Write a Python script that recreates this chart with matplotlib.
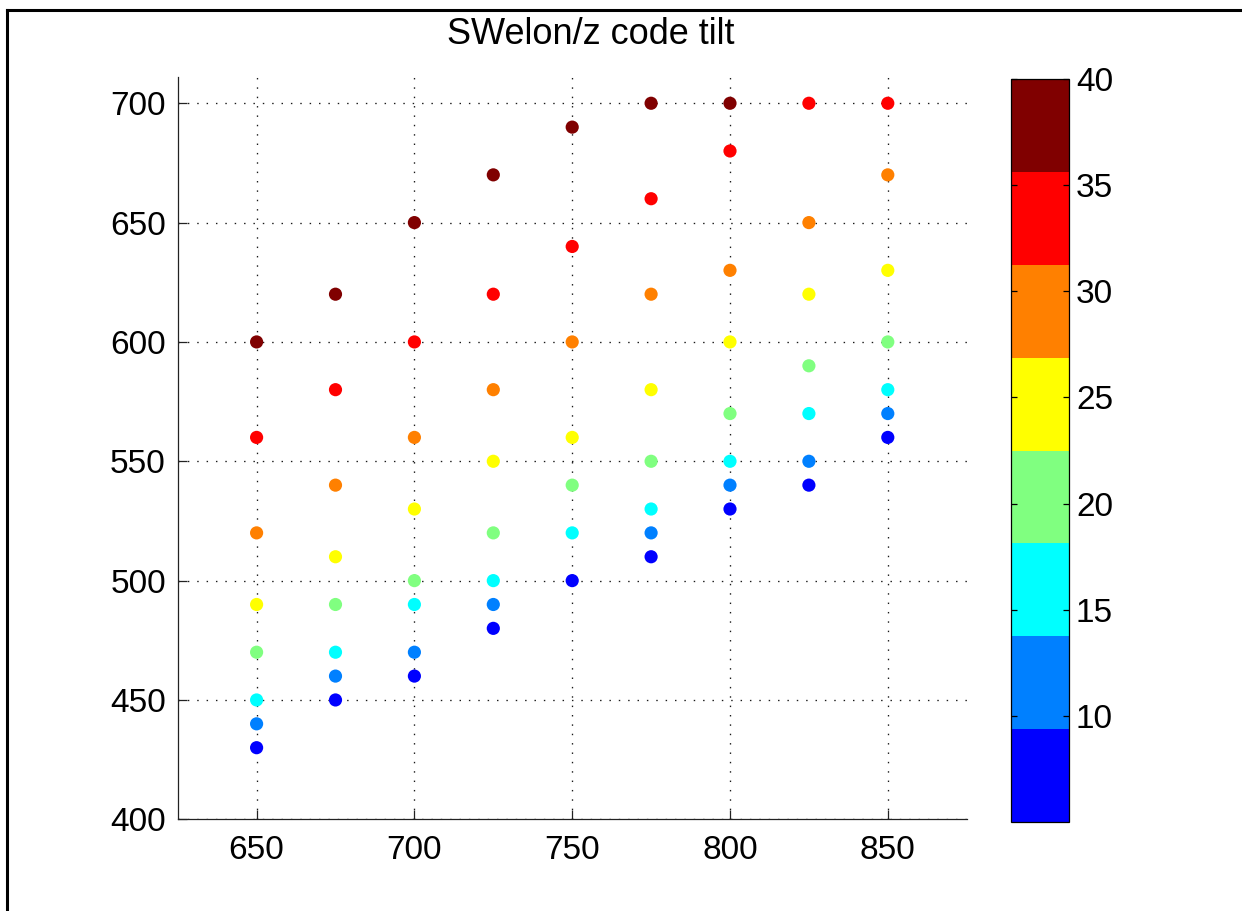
import numpy as np
import matplotlib
matplotlib.use("Agg")
import matplotlib.pyplot as plt
from matplotlib.colors import ListedColormap, Normalize
from matplotlib.lines import Line2D

plt.rcParams['font.family'] = ['Liberation Sans', 'DejaVu Sans']

# ---- data ----
x_cols = [650, 675, 700, 725, 750, 775, 800, 825, 850]
tilts = [5, 10, 15, 20, 25, 30, 35, 40]
nan = np.nan
y_tilt5 = [430, 450, 460, 480, 500, 510, 530, 540, 560]
y_tilt10 = [440, 460, 470, 490, nan, 520, 540, 550, 570]
y_tilt15 = [450, 470, 490, 500, 520, 530, 550, 570, 580]
y_tilt20 = [470, 490, 500, 520, 540, 550, 570, 590, 600]
y_tilt25 = [490, 510, 530, 550, 560, 580, 600, 620, 630]
y_tilt30 = [520, 540, 560, 580, 600, 620, 630, 650, 670]
y_tilt35 = [560, 580, 600, 620, 640, 660, 680, 700, 700]
y_tilt40 = [600, 620, 650, 670, 690, 700, 700, nan, nan]
y_by_tilt = [y_tilt5, y_tilt10, y_tilt15, y_tilt20,
             y_tilt25, y_tilt30, y_tilt35, y_tilt40]

x_ticks = [650, 700, 750, 800, 850]
y_ticks = [400, 450, 500, 550, 600, 650, 700]
cbar_ticks = [10, 15, 20, 25, 30, 35, 40]
title = "SWelon/z code tilt"

jet8 = [(0, 0, 1), (0, 0.5, 1), (0, 1, 1), (0.5, 1, 0.5),
        (1, 1, 0), (1, 0.5, 0), (1, 0, 0), (0.5, 0, 0)]

# flatten
xs, ys, cs = [], [], []
for t, yy in zip(tilts, y_by_tilt):
    for xv, yv in zip(x_cols, yy):
        if not np.isnan(yv):
            xs.append(xv); ys.append(yv); cs.append(t)

W, H = 1242, 911
fig = plt.figure(figsize=(W / 100, H / 100), dpi=100)
ax = fig.add_axes([177.7 / W, 1 - 819.3 / H, (966.7 - 177.7) / W, (819.3 - 77) / H])

cmap = ListedColormap(jet8)
norm = Normalize(vmin=5, vmax=40)
sc = ax.scatter(xs, ys, c=cs, cmap=cmap, norm=norm, s=90, linewidths=0, zorder=3)

ax.set_xlim(625, 875)
ax.set_ylim(400, 711)
ax.set_xticks(x_ticks)
ax.set_yticks(y_ticks)
ax.spines['top'].set_visible(False)
ax.spines['right'].set_visible(False)
for s in ('left', 'bottom'):
    ax.spines[s].set_linewidth(0.9)
    ax.spines[s].set_color('#222222')
ax.tick_params(direction='in', length=6.5, width=0.9, labelsize=24, color='#222222')
ax.tick_params(axis='y', pad=8.5)
ax.tick_params(axis='x', pad=11)
ax.set_axisbelow(True)
ax.grid(True, color='#1a1a1a', linewidth=0.95, linestyle=(0, (1.1, 6.0)))

ax.set_title(title, fontsize=26, pad=24, x=0.524)

cax = fig.add_axes([1011 / W, 1 - 822 / H, 58 / W, (822 - 79) / H])
cb = fig.colorbar(sc, cax=cax, ticks=cbar_ticks)
cb.outline.set_linewidth(0.9)
cax.tick_params(direction='in', length=4, width=0.9, labelsize=24, pad=5,
                left=True, right=True)

# figure border (left and top)
fig.add_artist(Line2D([7 / W, 7 / W], [0, 1 - 10 / H], transform=fig.transFigure,
                      color='k', linewidth=2.2))
fig.add_artist(Line2D([7 / W, 1], [1 - 10 / H, 1 - 10 / H], transform=fig.transFigure,
                      color='k', linewidth=2.2))

fig.savefig("out.png", dpi=100)
